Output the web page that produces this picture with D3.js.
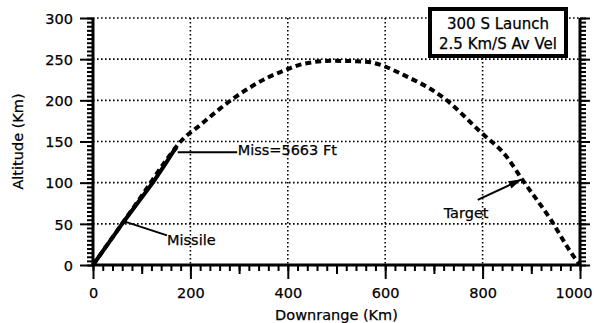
<!DOCTYPE html>
<html>
<head>
<meta charset="utf-8">
<script src="https://cdn.jsdelivr.net/npm/d3@7"></script>
<style>
  body { margin: 0; background: #fff; }
  svg { display: block; }
  text { font-family: "DejaVu Sans", sans-serif; fill: #000; stroke: #000; stroke-width: 0.25; }
</style>
</head>
<body>
<div id="chart"></div>
<script>
// target (dashed) trajectory
const targetRange = [0, 50, 100, 150, 180, 220, 290, 360, 400, 430, 490, 560, 600, 630, 720, 795, 850, 880, 940, 985, 1000];
const targetAlt = [0, 42, 84, 127, 150, 170, 203, 228, 238, 244, 248, 247, 241, 233, 203, 162, 131, 105, 55, 12, 0];
// missile (solid) trajectory
const missileRange = [0, 66, 124, 150, 165, 172];
const missileAlt = [0, 55, 101, 124, 138, 143];

const xMajor = [0, 200, 400, 600, 800, 1000];
const yMajor = [0, 50, 100, 150, 200, 250, 300];
const titleLines = ["300 S Launch", "2.5 Km/S Av Vel"];

const width = 594, height = 323;
const mLeft = 93, mRight = 580, mTop = 18, mBottom = 265;

const svg = d3.select("#chart").append("svg")
	.attr("width", width)
	.attr("height", height);

const x = d3.scaleLinear().domain([0, 1000]).range([mLeft, mRight]);
const y = d3.scaleLinear().domain([0, 300]).range([mBottom, mTop]);

//dotted grid
const grid = svg.append("g")
	.attr("stroke", "#000")
	.attr("stroke-width", 1.6)
	.attr("stroke-dasharray", "1.6,2.4");
grid.selectAll(".vgrid")
	.data(xMajor.filter(d => d > 0 && d < 1000))
	.enter().append("line")
	.attr("x1", d => x(d)).attr("x2", d => x(d))
	.attr("y1", mTop).attr("y2", mBottom);
grid.selectAll(".hgrid")
	.data(yMajor.filter(d => d > 0))
	.enter().append("line")
	.attr("x1", mLeft).attr("x2", mRight)
	.attr("y1", d => y(d)).attr("y2", d => y(d));

//axes
const yMinor = d3.range(0, 301, 5);
const xMinor = d3.range(0, 1001, 20);

function styleAxis(g) {
	g.select(".domain").remove();
	g.selectAll("line").attr("stroke", "#000").attr("stroke-width", 2);
	g.selectAll("text").attr("font-size", 14.5);
}

svg.append("g")
	.attr("transform", "translate(" + mLeft + ",0)")
	.call(d3.axisLeft(y).tickValues(yMinor).tickSize(6).tickFormat(""))
	.call(styleAxis);
svg.append("g")
	.attr("transform", "translate(" + mLeft + ",0)")
	.call(d3.axisLeft(y).tickValues(yMajor).tickSize(13).tickPadding(7).tickFormat(d3.format("d")))
	.call(styleAxis)
	.selectAll("text").attr("dy", "0.36em");

svg.append("g")
	.attr("transform", "translate(" + mRight + ",0)")
	.call(d3.axisRight(y).tickValues(yMinor).tickSize(6).tickFormat(""))
	.call(styleAxis);
svg.append("g")
	.attr("transform", "translate(" + mRight + ",0)")
	.call(d3.axisRight(y).tickValues(yMajor).tickSize(10).tickFormat(""))
	.call(styleAxis);

svg.append("g")
	.attr("transform", "translate(0," + mBottom + ")")
	.call(d3.axisBottom(x).tickValues(xMinor).tickSize(6).tickFormat(""))
	.call(styleAxis);
svg.append("g")
	.attr("transform", "translate(0," + mBottom + ")")
	.call(d3.axisBottom(x).tickValues(d3.range(100, 1000, 200)).tickSize(9).tickFormat(""))
	.call(styleAxis);
svg.append("g")
	.attr("transform", "translate(0," + mBottom + ")")
	.call(d3.axisBottom(x).tickValues(xMajor).tickSize(14).tickPadding(9).tickFormat(d3.format("d")))
	.call(styleAxis)
	.selectAll("text")
	.filter(d => d === 1000)
	.attr("text-anchor", "end")
	.attr("dx", 592 - mRight);

//thick axis lines
svg.append("path")
	.attr("d", "M" + mLeft + "," + mTop + "V" + mBottom + "H" + mRight + "V" + mTop)
	.attr("fill", "none")
	.attr("stroke", "#000")
	.attr("stroke-width", 3);

//trajectories
const line = d3.line().x(d => x(d[0])).y(d => y(d[1])).curve(d3.curveMonotoneX);

svg.append("path")
	.datum(d3.zip(targetRange, targetAlt))
	.attr("d", line)
	.attr("fill", "none")
	.attr("stroke", "#000")
	.attr("stroke-width", 4)
	.attr("stroke-dasharray", "6,4");

svg.append("path")
	.datum(d3.zip(missileRange, missileAlt))
	.attr("d", d3.line().x(d => x(d[0])).y(d => y(d[1])))
	.attr("fill", "none")
	.attr("stroke", "#000")
	.attr("stroke-width", 4);

//annotations
const ann = svg.append("g").attr("stroke", "#000").attr("fill", "none");
ann.append("line")
	.attr("x1", x(174)).attr("y1", y(137))
	.attr("x2", x(296)).attr("y2", y(137))
	.attr("stroke-width", 2);
ann.append("line")
	.attr("x1", x(64)).attr("y1", y(53))
	.attr("x2", x(152)).attr("y2", y(36))
	.attr("stroke-width", 2);
ann.append("line")
	.attr("x1", x(790)).attr("y1", y(79))
	.attr("x2", x(880)).attr("y2", y(104))
	.attr("stroke-width", 2);
// arrow head near the target
const ax = x(880), ay = y(104);
const ang = Math.atan2(ay - y(79), ax - x(790));
svg.append("path")
	.attr("d", "M" + ax + "," + ay +
		"L" + (ax - 13 * Math.cos(ang) + 4 * Math.sin(ang)) + "," + (ay - 13 * Math.sin(ang) - 4 * Math.cos(ang)) +
		"L" + (ax - 13 * Math.cos(ang) - 4 * Math.sin(ang)) + "," + (ay - 13 * Math.sin(ang) + 4 * Math.cos(ang)) + "Z")
	.attr("fill", "#000");

svg.append("text").attr("x", x(297)).attr("y", y(134))
	.attr("font-size", 14.5).text("Miss=5663 Ft");
svg.append("text").attr("x", x(152)).attr("y", y(24))
	.attr("font-size", 14.5).text("Missile");
svg.append("text").attr("x", x(720)).attr("y", y(57))
	.attr("font-size", 14.5).text("Target");

//title box
svg.append("rect")
	.attr("x", 430).attr("y", 9)
	.attr("width", 136).attr("height", 47)
	.attr("fill", "#fff");
svg.selectAll(".title")
	.data(titleLines)
	.enter().append("text")
	.attr("class", "title")
	.attr("x", 498)
	.attr("y", (d, i) => 29 + i * 20)
	.attr("text-anchor", "middle")
	.attr("font-size", 15)
	.text(d => d);
svg.append("rect")
	.attr("x", 430).attr("y", 9)
	.attr("width", 136).attr("height", 47)
	.attr("fill", "none")
	.attr("stroke", "#000")
	.attr("stroke-width", 4);

//axis titles
svg.append("text")
	.attr("transform", "translate(23," + ((mTop + mBottom) / 2) + ") rotate(-90)")
	.attr("text-anchor", "middle")
	.attr("font-size", 14.5)
	.text("Altitude (Km)");
svg.append("text")
	.attr("x", (mLeft + mRight) / 2)
	.attr("y", 320)
	.attr("text-anchor", "middle")
	.attr("font-size", 14.5)
	.text("Downrange (Km)");
</script>
</body>
</html>
